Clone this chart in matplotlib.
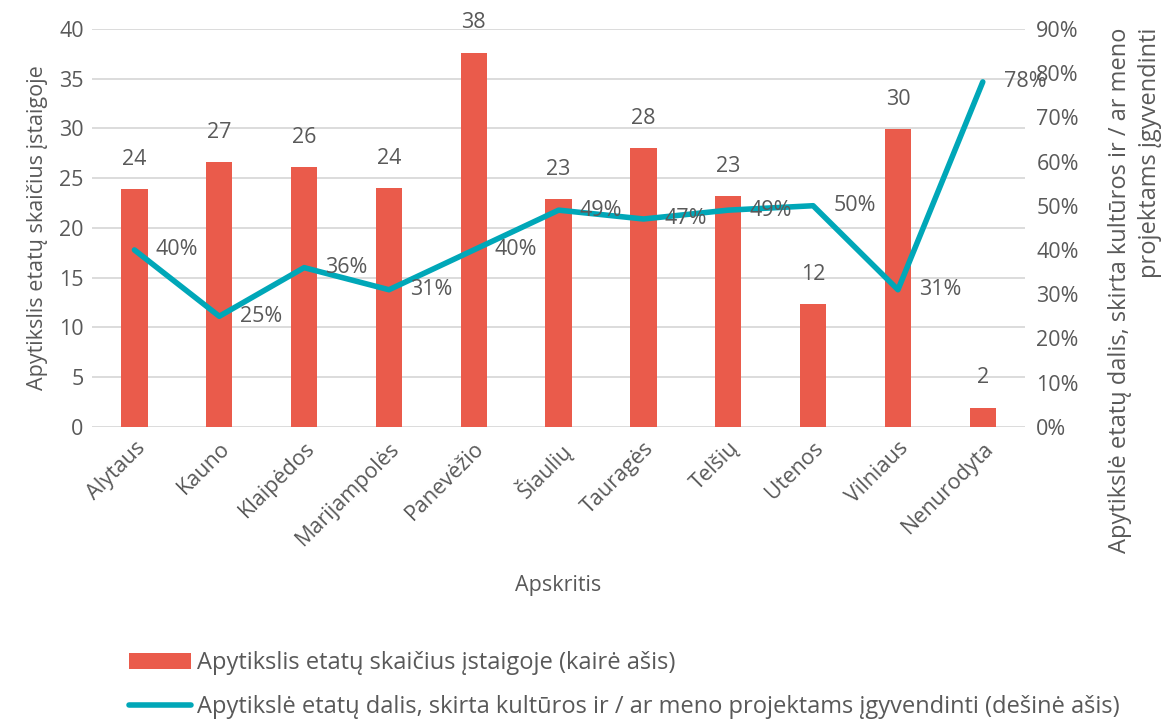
import matplotlib
matplotlib.use("Agg")
import matplotlib.pyplot as plt
from matplotlib.ticker import FuncFormatter, MultipleLocator

plt.rcParams['font.family'] = ['Open Sans', 'DejaVu Sans']

categories = ["Alytaus", "Kauno", "Klaipėdos", "Marijampolės", "Panevėžio", "Šiaulių",
              "Tauragės", "Telšių", "Utenos", "Vilniaus", "Nenurodyta"]
staff_count = [23.9, 26.6, 26.1, 24.0, 37.6, 22.9, 28.0, 23.2, 12.3, 29.9, 1.9]
project_share = [40, 25, 36, 31, 40, 49, 47, 49, 50, 31, 78]

bar_label = "Apytikslis etatų skaičius įstaigoje (kairė ašis)"
line_label = "Apytikslė etatų dalis, skirta kultūros ir / ar meno projektams įgyvendinti (dešinė ašis)"
left_ylabel = "Apytikslis etatų skaičius įstaigoje"
right_ylabel = "Apytikslė etatų dalis, skirta kultūros ir / ar meno\nprojektams įgyvendinti"
xlabel = "Apskritis"

BAR_C = "#EA5B4B"
LINE_C = "#00A7B8"
TXT = "#595959"
GRID = "#D9D9D9"
FS = 15.5
FS_BIG = 17

fig = plt.figure(figsize=(11.65, 7.21), dpi=100)
ax = fig.add_axes([0.079, 0.408, 0.801, 0.552])
x = list(range(len(categories)))
bars = ax.bar(x, staff_count, width=0.31, color=BAR_C, zorder=2, label=bar_label)
ax.set_ylim(0, 40)
ax.set_xlim(-0.5, len(categories) - 0.5)
ax.yaxis.set_major_locator(MultipleLocator(5))
ax.grid(axis='y', color=GRID, linewidth=1.3, zorder=0)
ax.set_axisbelow(True)
for s in ax.spines.values():
    s.set_visible(False)
ax.tick_params(axis='both', length=0, labelsize=FS, colors=TXT)
ax.tick_params(axis='y', pad=6)
ax.set_xticks(x)
ax.set_xticklabels(categories, rotation=45, ha='right', rotation_mode='anchor')
ax.tick_params(axis='x', pad=8)
ax.set_ylabel(left_ylabel, fontsize=FS, color=TXT, labelpad=8)
ax.set_xlabel(xlabel, fontsize=FS, color=TXT, labelpad=18)

for xi, v in zip(x, staff_count):
    ax.annotate(f"{v:.0f}", (xi, v), xytext=(0, 14), textcoords='offset points',
                ha='center', va='bottom', fontsize=FS, color=TXT)

ax2 = ax.twinx()
line, = ax2.plot(x, project_share, color=LINE_C, linewidth=4, zorder=3,
                 solid_capstyle='round', label=line_label)
ax2.set_ylim(0, 90)
ax2.yaxis.set_major_locator(MultipleLocator(10))
ax2.yaxis.set_major_formatter(FuncFormatter(lambda v, p: f"{v:.0f}%"))
for s in ax2.spines.values():
    s.set_visible(False)
ax2.tick_params(axis='y', length=0, labelsize=FS, colors=TXT, pad=8)

fig.text(0.9745, 0.962, right_ylabel, rotation=90, ha='center', va='top',
         multialignment='right', fontsize=FS_BIG, color=TXT, linespacing=1.35)

for xi, v in zip(x, project_share):
    ax2.annotate(f"{v:.0f}%", (xi, v), xytext=(15, 0), textcoords='offset points',
                 ha='left', va='center', fontsize=FS, color=TXT)

leg = fig.legend([bars, line], [bar_label, line_label], loc='upper left',
                 bbox_to_anchor=(0.111, 0.097), frameon=False, fontsize=FS_BIG,
                 labelcolor=TXT, handlelength=2.6, handletextpad=0.25, labelspacing=0.85,
                 borderaxespad=0, borderpad=0)

fig.savefig("out.png", dpi=100)
